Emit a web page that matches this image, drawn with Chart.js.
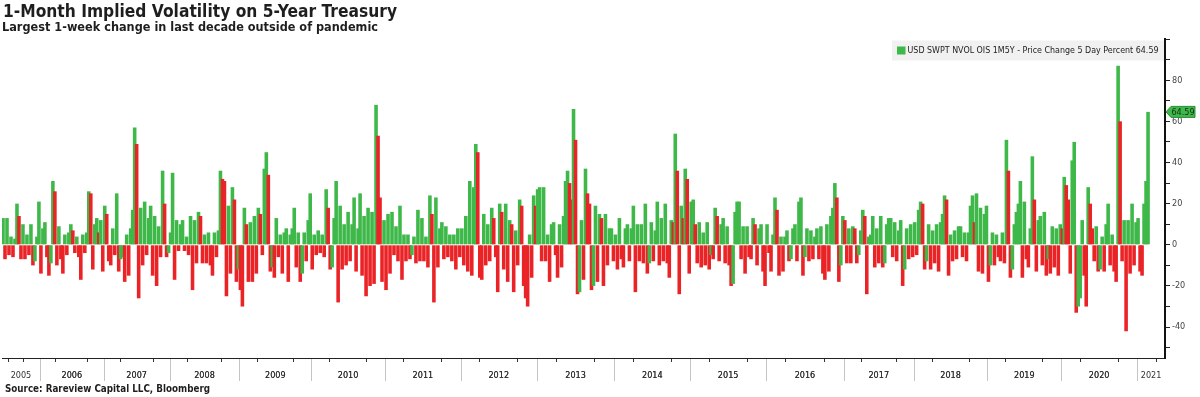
<!DOCTYPE html>
<html><head><meta charset="utf-8">
<script src="https://cdn.jsdelivr.net/npm/chart.js@4.4.1/dist/chart.umd.min.js"></script>
<style>
html,body{margin:0;padding:0;background:#fff;width:1200px;height:397px;overflow:hidden}
#wrap{position:relative;width:1200px;height:397px}
canvas{position:absolute;left:0;top:0}
.t{position:absolute;white-space:nowrap;font-family:"DejaVu Sans",sans-serif;font-weight:bold;color:#1e1e1e;transform-origin:0 0}
#title{left:3px;top:1px;font-size:18px;line-height:20px}
#sub{left:2px;top:20px;font-size:12.5px;line-height:14px}
#src{left:5px;top:382px;font-size:10.5px;line-height:13px}
</style></head>
<body><div id="wrap">
<canvas id="c" width="1200" height="397"></canvas>
<div class="t" id="title" data-w="394">1-Month Implied Volatility on 5-Year Treasury</div>
<div class="t" id="sub" data-w="376">Largest 1-week change in last decade outside of pandemic</div>
<div class="t" id="src" data-w="205">Source: Rareview Capital LLC, Bloomberg</div>
</div>
<script>
const GREEN = '#3fb84a';
const RED = '#ea2327';
const seriesName = 'USD SWPT NVOL OIS 1M5Y - Price Change 5 Day Percent';
const yearLabels = ['2005','2006','2007','2008','2009','2010','2011','2012','2013','2014','2015','2016','2017','2018','2019','2020','2021'];
// number of bar slots each year occupies on the axis (2021 axis extends past the last bar)
const yearSlots = [19,32,33,35,36,37,38,38,39,38,38,39,35,37,37,38,14];

const v2005 = [13,-7,13,-5,4,-6,3,20,14,-7,10,-7,5,-5,10,-10,-8,4,21];
const v2006 = [-14,8,11,-6,-15,-9,31,26,-10,9,-7,-14,5,-5,6,10,7,-4,4,-6,-17,5,-4,6,26,25,-12,10,13,6,12,-13];
const v2007 = [19,15,-8,-10,8,-5,25,-13,-7,-6,-18,5,-15,8,17,57,49,-26,18,-10,21,-5,13,19,-15,14,-20,9,-6,36,20,-6,-4];
const v2008 = [6,35,-17,12,-3,10,12,-3,4,-5,14,-22,12,-9,16,14,-9,5,-9,6,-10,-15,6,-6,7,36,32,31,-25,19,-14,28,22,-18,-12];
const v2009 = [-22,-30,18,10,-18,11,-18,14,-14,18,15,-5,37,45,34,-13,-11,-16,13,-6,5,-14,6,8,-18,5,8,18,-11,6,-18,-14,6,-8,12,25];
const v2010 = [-12,5,-5,7,-4,5,-6,27,18,-12,-11,13,31,-28,19,-12,10,-10,16,-8,10,23,-13,8,25,-15,14,-25,18,-20,16,-19,68,53,23,-18,12];
const v2011 = [-22,15,-14,16,-5,9,-8,19,-17,5,-8,5,-7,-5,4,-9,17,-8,13,-8,4,-11,24,15,-28,23,-11,8,11,-7,9,-6,5,-8,5,-12,8,-6];
const v2012 = [8,-10,14,-13,31,-15,28,49,45,-16,-17,15,-10,10,-8,18,13,-6,-23,20,16,-12,20,-18,12,10,-23,7,-10,22,19,-20,-26,-30,5,-16,24,19];
const v2013 = [27,28,-8,28,-8,5,-18,10,11,-5,-16,10,-11,14,31,36,30,22,66,51,-24,-23,12,-17,37,25,20,-22,-20,19,-18,15,13,-20,15,-10,8,8,-8];
const v2014 = [5,-12,13,-7,-11,8,10,-8,8,19,-23,10,-8,10,-9,20,-14,-9,11,-8,7,21,-10,13,-8,20,-9,-16,12,11,54,36,-24,19,13,37,32,-14];
const v2015 = [21,22,10,-9,11,-11,6,-10,11,-12,-5,-7,18,14,-8,10,13,-9,9,-10,-20,-19,16,21,21,-7,9,-14,9,-6,-7,13,10,-10,8,10,-13,-20];
const v2016 = [10,-4,-13,5,23,17,-15,4,-13,4,7,-8,-7,8,10,-8,21,23,-15,-6,8,-8,7,-7,4,8,-7,9,-14,-17,10,-13,14,18,30,23,-18,-10,14];
const v2017 = [12,-9,8,-9,9,8,-9,-5,7,17,14,-24,4,5,14,-11,8,-9,14,-11,-9,10,13,13,-6,11,-8,7,12,-20,-12,8,-7,10,-6];
const v2018 = [11,-5,17,21,20,-12,-8,10,-12,7,-9,10,-13,11,15,24,22,-15,5,-8,7,-7,9,9,-6,6,-8,6,19,24,11,25,-13,18,-14,15,19];
const v2019 = [-18,-10,6,-10,5,-6,-8,6,-9,51,36,-16,-12,10,16,20,31,-16,21,-7,-11,8,43,22,-13,12,14,-10,16,-15,-7,-14,9,-11,8,-15,10];
const v2020 = [8,33,29,22,-14,41,50,-33,-30,-26,12,-15,-30,28,20,8,-8,9,-13,-12,4,-13,10,20,-10,5,-13,-18,87,60,-8,12,-42,12,-14,20,-10,11];
const v2021 = [13,-13,-15,20,31,64.59];
const yearValues = [v2005,v2006,v2007,v2008,v2009,v2010,v2011,v2012,v2013,v2014,v2015,v2016,v2017,v2018,v2019,v2020,v2021];

const yTickMin = -50, yTickMax = 100, yLabelMin = -40, yLabelMax = 80;

// ---- build chart structures from the arrays ----
const bounds = [0];
yearSlots.forEach(n => bounds.push(bounds[bounds.length - 1] + n));
const points = [], colors = [];
let prev = null;
yearValues.forEach((arr, k) => arr.forEach((v, j) => {
  points.push({x: bounds[k] + j + 0.5, y: v});
  colors.push(prev === null || v >= prev ? GREEN : RED);
  prev = v;
}));
const lastVal = points[points.length - 1].y;

const labelMap = new Map();
const xTicks = [];
yearSlots.forEach((n, k) => {
  const mid = (bounds[k] + bounds[k + 1]) / 2;
  labelMap.set(mid, yearLabels[k]);
  xTicks.push(mid);
  let span = n;
  if (k === 0) span = yearSlots[1];
  if (k === yearSlots.length - 1) span = yearSlots[k - 1];
  for (let q = 1; q < 4; q++) {
    const v = (k === 0) ? bounds[1] - span * q / 4 : bounds[k] + span * q / 4;
    if (v > 0 && v < bounds[bounds.length - 1]) xTicks.push(v);
  }
});
xTicks.sort((a, b) => a - b);

Chart.defaults.font.family = '"DejaVu Sans Condensed", "DejaVu Sans", sans-serif';

const dividerPlugin = {
  id: 'yearDividers',
  afterDraw(chart) {
    const ctx = chart.ctx, xs = chart.scales.x, ca = chart.chartArea;
    ctx.save();
    ctx.strokeStyle = '#c4c4c4';
    ctx.lineWidth = 1;
    for (let k = 1; k < bounds.length - 1; k++) {
      const x = Math.round(xs.getPixelForValue(bounds[k])) + 0.5;
      ctx.beginPath(); ctx.moveTo(x, ca.bottom + 1); ctx.lineTo(x, ca.bottom + 23); ctx.stroke();
    }
    ctx.restore();
  }
};

const legendPlugin = {
  id: 'boxLegend',
  afterDraw(chart) {
    const ctx = chart.ctx;
    ctx.save();
    ctx.fillStyle = '#f1f1f1';
    ctx.fillRect(892, 40.5, 272, 20);
    ctx.fillStyle = GREEN;
    ctx.fillRect(897, 46.5, 8.5, 8);
    const txt = seriesName + ' ' + lastVal.toFixed(2);
    ctx.font = '9px "DejaVu Sans Condensed", "DejaVu Sans", sans-serif';
    const w = ctx.measureText(txt).width;
    ctx.translate(907.5, 51);
    ctx.scale(251 / w, 1);
    ctx.fillStyle = '#222';
    ctx.textBaseline = 'middle';
    ctx.fillText(txt, 0, 0);
    ctx.restore();

    // last value tag on the y axis
    const ys = chart.scales.y;
    const y = ys.getPixelForValue(lastVal);
    const x0 = chart.chartArea.right + 1;
    ctx.save();
    ctx.beginPath();
    ctx.moveTo(x0, y);
    ctx.lineTo(x0 + 5, y - 5.5);
    ctx.lineTo(x0 + 29, y - 5.5);
    ctx.lineTo(x0 + 29, y + 5.5);
    ctx.lineTo(x0 + 5, y + 5.5);
    ctx.closePath();
    ctx.fillStyle = GREEN; ctx.fill();
    ctx.strokeStyle = '#2c8d37'; ctx.lineWidth = 1; ctx.stroke();
    ctx.fillStyle = '#103010';
    ctx.font = '9px "DejaVu Sans Condensed", "DejaVu Sans", sans-serif';
    ctx.textBaseline = 'middle'; ctx.textAlign = 'center';
    ctx.fillText(lastVal.toFixed(2), x0 + 17, y + 0.5);
    ctx.restore();
  }
};

new Chart(document.getElementById('c'), {
  type: 'bar',
  data: {
    datasets: [{
      label: seriesName,
      data: points,
      backgroundColor: colors,
      borderWidth: 0,
      barPercentage: 1.8,
      categoryPercentage: 1
    }]
  },
  options: {
    responsive: false,
    animation: false,
    events: [],
    devicePixelRatio: 1,
    layout: {padding: {top: 39, left: 0, right: 0, bottom: 0}},
    plugins: {legend: {display: false}, tooltip: {enabled: false}},
    scales: {
      x: {
        type: 'linear',
        min: 0,
        max: bounds[bounds.length - 1],
        bounds: 'data',
        offset: false,
        grid: {
          offset: false,
          drawOnChartArea: false,
          drawTicks: true,
          tickLength: 4,
          color: (c) => (c.tick && labelMap.has(c.tick.value)) ? 'rgba(0,0,0,0)' : '#333'
        },
        border: {display: true, color: '#222', width: 1},
        afterBuildTicks: (s) => { s.ticks = xTicks.map(v => ({value: v})); },
        ticks: {
          autoSkip: false, maxRotation: 0, minRotation: 0,
          padding: 8,
          color: '#333',
          font: {size: 9},
          callback: (v) => labelMap.get(v) || ''
        },
        afterFit: (s) => { s.height = 39; }
      },
      y: {
        position: 'right',
        min: -55,
        max: 100,
        grid: {drawOnChartArea: false, drawTicks: true, tickLength: 5, color: '#222'},
        border: {display: true, color: '#111', width: 2},
        ticks: {
          stepSize: 10,
          includeBounds: false,
          padding: 2,
          color: '#444',
          font: {size: 9},
          callback: (v) => (v % 20 === 0 && v >= yLabelMin && v <= yLabelMax) ? String(v) : ''
        },
        afterBuildTicks: (s) => {
          const t = [];
          for (let v = yTickMin; v <= yTickMax; v += 10) t.push({value: v});
          s.ticks = t;
        },
        afterFit: (s) => { s.width = 35; }
      }
    }
  },
  plugins: [dividerPlugin, legendPlugin]
});

document.querySelectorAll('.t').forEach(el => {
  const nat = el.getBoundingClientRect().width;
  const target = parseFloat(el.dataset.w);
  el.style.transform = 'scaleX(' + (target / nat) + ')';
});
</script>
</body></html>
